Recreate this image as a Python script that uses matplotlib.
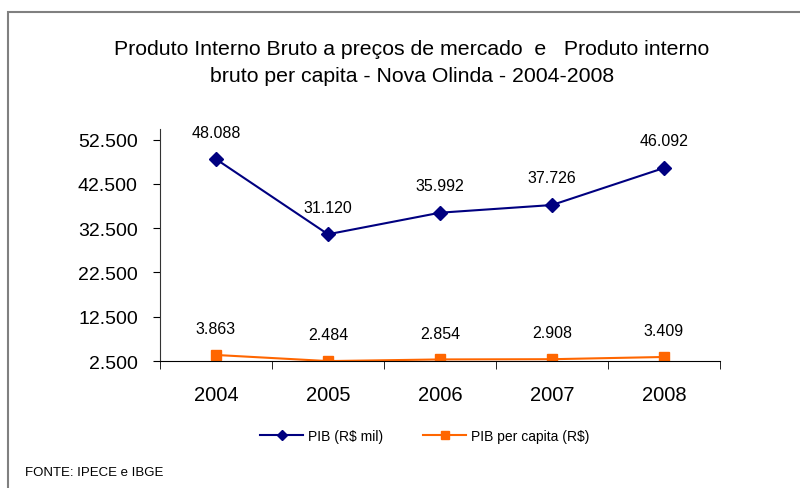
import matplotlib.pyplot as plt
from matplotlib import patches

plt.rcParams['font.family'] = ['Liberation Sans', 'DejaVu Sans']

# data
years = ["2004", "2005", "2006", "2007", "2008"]
pib = [48088, 31120, 35992, 37726, 46092]           # R$ mil
pib_per_capita = [3863, 2484, 2854, 2908, 3409]     # R$
y_ticks = [2500, 12500, 22500, 32500, 42500, 52500]


def fmt_br(v):
    # brazilian thousands separator
    return f"{v:,.0f}".replace(",", ".")


fig = plt.figure(figsize=(8, 4.89), dpi=100)
ax = fig.add_axes([0.2, 0.2597, 0.7, 0.4745])

# outer frame of the excel chart (right/bottom edges fall outside the picture)
fig.patches.append(patches.Rectangle((8 / 800, -0.1), 1.2, 1 - 13 / 489 + 0.1,
                                     transform=fig.transFigure, fill=False,
                                     edgecolor="#808080", linewidth=1.5))

x = list(range(len(years)))
ax.plot(x, pib, color="#000080", linewidth=1.5, marker="D", markersize=7,
        label="PIB (R$ mil)")
ax.plot(x, pib_per_capita, color="#FF6600", linewidth=1.5, marker="s", markersize=7.5,
        label="PIB per capita (R$)")

for xi, v in zip(x, pib):
    ax.annotate(fmt_br(v), (xi, v), xytext=(0, 19.5), textcoords="offset points",
                ha="center", va="center", fontsize=11.5)
for xi, v in zip(x, pib_per_capita):
    ax.annotate(fmt_br(v), (xi, v), xytext=(0, 19), textcoords="offset points",
                ha="center", va="center", fontsize=11.5)

ax.set_xlim(-0.5, len(years) - 0.5)
ax.set_ylim(2500, 54900)
ax.set_yticks(y_ticks)
ax.set_yticklabels([fmt_br(t) for t in y_ticks], fontsize=14)
ax.set_xticks(x)
ax.set_xticklabels(years, fontsize=14.5)
ax.set_xticks([i - 0.5 for i in range(len(years) + 1)], minor=True)
ax.tick_params(axis="x", which="major", length=0, pad=17)
ax.tick_params(axis="x", which="minor", length=6, direction="out")
ax.tick_params(axis="y", length=5, direction="out", pad=11)

for side in ["top", "right"]:
    ax.spines[side].set_visible(False)
ax.spines["left"].set_color("#333333")
ax.spines["bottom"].set_color("black")

fig.text(0.515, 0.898, "Produto Interno Bruto a preços de mercado  e   Produto interno",
         ha="center", va="center", fontsize=15.3)
fig.text(0.515, 0.843, "bruto per capita - Nova Olinda - 2004-2008",
         ha="center", va="center", fontsize=15.3)

fig.legend(loc="center", bbox_to_anchor=(0.531, 0.106), ncol=2, frameon=False,
           fontsize=10, handlelength=3.1, handletextpad=0.35, columnspacing=2.9,
           markerscale=0.8)

fig.text(25 / 800, 1 - 473 / 489, "FONTE: IPECE e IBGE", ha="left", va="center",
         fontsize=9.5)

fig.savefig("out.png", dpi=100)
